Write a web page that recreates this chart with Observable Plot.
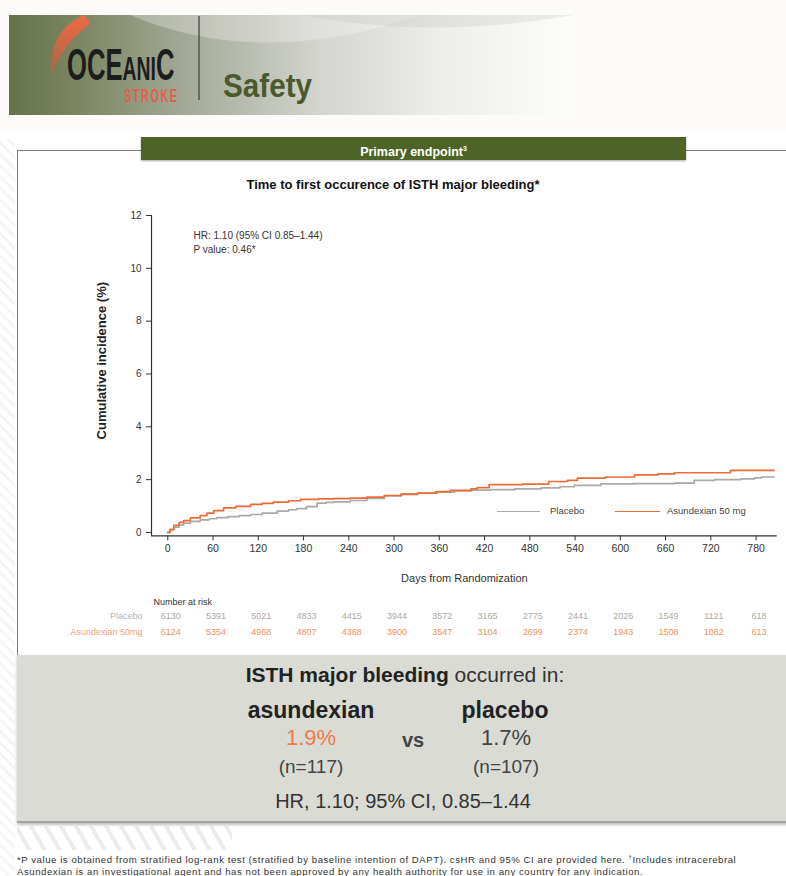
<!DOCTYPE html>
<html>
<head>
<meta charset="utf-8">
<script src="https://cdn.jsdelivr.net/npm/d3@7"></script>
<script src="https://cdn.jsdelivr.net/npm/@observablehq/plot@0.6"></script>
<style>
  html, body { margin: 0; padding: 0; }
  body { width: 786px; height: 876px; position: relative; overflow: hidden; background: #fff;
         font-family: "Liberation Sans", Arial, Helvetica, sans-serif; color: #333; }
  .abs { position: absolute; }
  .ctr { position: absolute; transform: translateX(-50%); white-space: nowrap; }
</style>
</head>
<body>
<script>
// ---------------- DATA ----------------
const xTicks = [0, 60, 120, 180, 240, 300, 360, 420, 480, 540, 600, 660, 720, 780];
const yTicks = [0, 2, 4, 6, 8, 10, 12];

const placeboDays = [0, 3, 8, 15, 21, 30, 43, 55, 65, 80, 95, 110, 125, 145, 160, 171, 184, 198, 210, 220,
  242, 264, 287, 309, 331, 358, 380, 402, 428, 460, 495, 520, 539, 574, 620, 672, 698, 725, 760, 778, 787, 804];
const placeboInc = [0, 0.1, 0.2, 0.28, 0.35, 0.42, 0.48, 0.52, 0.56, 0.6, 0.64, 0.68, 0.73, 0.81, 0.86, 0.9, 0.98, 1.11, 1.14, 1.16,
  1.21, 1.29, 1.38, 1.46, 1.49, 1.53, 1.57, 1.6, 1.62, 1.65, 1.69, 1.73, 1.78, 1.84, 1.85, 1.87, 1.97, 2.0, 2.03, 2.07, 2.1, 2.1];

const asunDays = [0, 3, 8, 15, 21, 30, 43, 52, 61, 74, 90, 110, 125, 140, 160, 176, 200, 220, 242, 264,
  287, 310, 331, 355, 375, 402, 410, 426, 470, 505, 530, 543, 580, 619, 650, 672, 746, 804];
const asunInc = [0, 0.12, 0.27, 0.38, 0.45, 0.55, 0.64, 0.73, 0.83, 0.93, 0.99, 1.06, 1.1, 1.15, 1.2, 1.25, 1.27, 1.28, 1.3, 1.34,
  1.4, 1.44, 1.49, 1.55, 1.59, 1.65, 1.7, 1.81, 1.83, 1.93, 1.97, 2.06, 2.1, 2.18, 2.22, 2.26, 2.35, 2.35];

const riskGroups = ["Placebo", "Asundexian 50mg"];
const riskPlacebo = [6130, 5391, 5021, 4833, 4415, 3944, 3572, 3165, 2775, 2441, 2026, 1549, 1121, 618];
const riskAsun = [6124, 5354, 4968, 4807, 4368, 3900, 3547, 3104, 2699, 2374, 1943, 1508, 1082, 613];

const seriesNames = ["Placebo", "Asundexian 50 mg"];
const seriesColors = ["#a9a9a9", "#ee6a37"];

const annotation = "HR: 1.10 (95% CI 0.85\u20131.44)\nP value: 0.46*";
const yLabel = "Cumulative incidence (%)";
const xLabel = "Days from Randomization";
</script>

<!-- header -->
<svg class="abs" style="left:0;top:0" width="786" height="132">
  <defs>
    <linearGradient id="hg" x1="0" x2="1" y1="0" y2="0">
      <stop offset="0" stop-color="#65724a"/>
      <stop offset="0.14" stop-color="#7f8966"/>
      <stop offset="0.34" stop-color="#a9ae9e"/>
      <stop offset="0.55" stop-color="#d3d5cf"/>
      <stop offset="0.76" stop-color="#ededeb"/>
      <stop offset="1" stop-color="#fdfdfc"/>
    </linearGradient>
    <linearGradient id="fl" x1="0" x2="0" y1="0" y2="1">
      <stop offset="0" stop-color="#ef6a45"/>
      <stop offset="1" stop-color="#d8553a" stop-opacity="0.55"/>
    </linearGradient>
  </defs>
  <rect x="0" y="0" width="786" height="132" fill="#fdfbfa"/>
  <rect x="9" y="15" width="565" height="100" fill="url(#hg)"/>
  <path d="M130,15 Q 260,70 420,15 Z" fill="#ffffff" opacity="0.28"/>
  <path d="M300,15 Q 430,40 574,15 Z" fill="#bdbdb8" opacity="0.25"/>
  <path d="M84,15 C62,24 48,46 52,74 C58,58 68,40 90,24 C88,20 86,17 84,15 Z" fill="url(#fl)"/>
  <g transform="translate(67,0) scale(0.57,1)">
    <text y="80" font-weight="bold" fill="#1d1d1d"><tspan x="0" font-size="45">OCE</tspan><tspan font-size="34">ANI</tspan><tspan font-size="45">C</tspan><tspan x="100" y="102" font-size="19" letter-spacing="2.8" fill="#e0604a">STROKE</tspan></text>
  </g>
  <line x1="199" x2="199" y1="16" y2="100" stroke="#555" stroke-width="1.5"/>
  <text x="223" y="97" textLength="89" lengthAdjust="spacingAndGlyphs" font-weight="bold" font-size="33" fill="#4a5a2c">Safety</text>
</svg>

<!-- left decorative stripes -->
<div class="abs" style="left:0;top:140px;width:15px;height:736px;opacity:0.18;background:repeating-linear-gradient(45deg,#fff 0 5px,#c8c8c8 5px 8px);"></div>

<!-- panel border -->
<div class="abs" style="left:17px;top:150px;width:800px;height:505px;border-top:1px solid #7d7d7d;border-left:1px solid #7d7d7d;background:#fff;"></div>

<!-- green banner -->
<div class="abs" style="left:141px;top:137px;width:545px;height:23px;background:#4e6426;color:#fff;font-weight:bold;font-size:12.5px;text-align:center;line-height:23px;box-shadow:0 1px 2px rgba(0,0,0,0.35);">Primary endpoint<sup style="font-size:7px;">3</sup></div>

<!-- chart title -->
<div class="ctr" style="left:393px;top:177px;font-weight:bold;font-size:13px;color:#111;">Time to first occurence of ISTH major bleeding*</div>

<div id="main" class="abs" style="left:0;top:190px;"></div>
<div id="legend" class="abs" style="left:0;top:504px;width:786px;height:16px;font-size:9.5px;color:#444;"></div>
<div id="risk" class="abs" style="left:0;top:590px;"></div>

<!-- summary box -->
<div class="abs" style="left:17px;top:655px;width:790px;height:166px;background:#d9dbd4;border-bottom:2px solid #a3a49f;box-shadow:0 2px 3px rgba(0,0,0,0.25);"></div>
<div class="ctr" style="left:405px;top:663px;font-size:21px;color:#333;"><b style="color:#222">ISTH major bleeding</b> occurred in:</div>
<div class="ctr" style="left:311px;top:697px;font-size:23px;font-weight:bold;color:#222;">asundexian</div>
<div class="ctr" style="left:505px;top:697px;font-size:23px;font-weight:bold;color:#222;">placebo</div>
<div class="ctr" style="left:311px;top:725px;font-size:22px;color:#f07a45;">1.9%</div>
<div class="ctr" style="left:413px;top:729px;font-size:20px;font-weight:bold;color:#444;">vs</div>
<div class="ctr" style="left:506px;top:725px;font-size:22px;color:#444;">1.7%</div>
<div class="ctr" style="left:311px;top:756px;font-size:19px;color:#444;">(n=117)</div>
<div class="ctr" style="left:506px;top:756px;font-size:19px;color:#444;">(n=107)</div>
<div class="ctr" style="left:403px;top:790px;font-size:20px;color:#333;">HR, 1.10; 95% CI, 0.85&#8211;1.44</div>

<!-- bottom stripes -->
<div class="abs" style="left:17px;top:826px;width:215px;height:24px;opacity:0.4;background:repeating-linear-gradient(60deg,#fff 0 9px,#cfcfcf 9px 13px);"></div>

<!-- footnotes -->
<div class="abs" style="left:17px;top:851px;font-size:9.6px;color:#333;white-space:nowrap;line-height:12px;letter-spacing:0.55px;">
*P value is obtained from stratified log-rank test (stratified by baseline intention of DAPT). csHR and 95% CI are provided here. <sup style="font-size:6px">†</sup>Includes intracerebral<br>
Asundexian is an investigational agent and has not been approved by any health authority for use in any country for any indication.
</div>

<script>
const xDomain = [-21.6, 808];
const yDomain = [-0.13, 12];
const placebo = placeboDays.map((d, i) => ({day: d, inc: placeboInc[i]}));
const asun = asunDays.map((d, i) => ({day: d, inc: asunInc[i]}));

const main = Plot.plot({
  width: 786, height: 410,
  marginLeft: 151, marginRight: 9.3, marginTop: 25, marginBottom: 64.6,
  style: {fontFamily: "'Liberation Sans', Arial, sans-serif", fontSize: "10px", color: "#333", background: "transparent", overflow: "visible"},
  x: {domain: xDomain},
  y: {domain: yDomain},
  marks: [
    Plot.ruleX([xDomain[0]], {stroke: "#333", strokeWidth: 1.2}),
    Plot.ruleY([yDomain[0]], {stroke: "#333", strokeWidth: 1.2}),
    Plot.axisY({ticks: yTicks, tickSize: 5, tickPadding: 5, label: null, stroke: "#333"}),
    Plot.axisX({ticks: xTicks, tickSize: 5, tickPadding: 4, label: null, fontSize: 10.5, stroke: "#333"}),
    Plot.text([xLabel], {frameAnchor: "bottom", dy: 46, fontSize: 11, fill: "#333"}),
    Plot.line(placebo, {x: "day", y: "inc", curve: "step-after", stroke: seriesColors[0], strokeWidth: 1.7}),
    Plot.line(asun, {x: "day", y: "inc", curve: "step-after", stroke: seriesColors[1], strokeWidth: 1.7}),
    Plot.text([yLabel], {frameAnchor: "left", textAnchor: "middle", rotate: -90, dx: -50, dy: -15, fontWeight: "bold", fontSize: 13, fill: "#222"}),
    Plot.text([annotation], {frameAnchor: "top-left", textAnchor: "start", lineAnchor: "top", dx: 42, dy: 14, lineHeight: 1.35, fontSize: 10, fill: "#333"})
  ]
});
document.getElementById("main").appendChild(main);

// legend
const legendPos = [{l: 497, w: 43, t: 550}, {l: 615, w: 45, t: 667}];
const lg = document.getElementById("legend");
seriesNames.forEach((name, i) => {
  const p = legendPos[i];
  const line = document.createElement("div");
  line.style.cssText = `position:absolute;left:${p.l}px;top:7px;width:${p.w}px;height:0;border-top:1.7px solid ${seriesColors[i]};`;
  const t = document.createElement("div");
  t.style.cssText = `position:absolute;left:${p.t}px;top:1px;white-space:nowrap;`;
  t.textContent = name;
  lg.appendChild(line); lg.appendChild(t);
});

// number at risk
const riskRows = [];
xTicks.forEach((d, i) => {
  riskRows.push({day: d, group: riskGroups[0], n: riskPlacebo[i]});
  riskRows.push({day: d, group: riskGroups[1], n: riskAsun[i]});
});
const risk = Plot.plot({
  width: 786, height: 50,
  marginLeft: 151, marginRight: 9.3, marginTop: 0, marginBottom: 0,
  style: {fontFamily: "'Liberation Sans', Arial, sans-serif", fontSize: "9px", background: "transparent", overflow: "visible"},
  x: {domain: xDomain, axis: null},
  y: {type: "point", domain: riskGroups, range: [26, 42], padding: 0, axis: null},
  color: {domain: riskGroups, range: ["#a9a9a9", "#f0905f"]},
  marks: [
    Plot.text(["Number at risk"], {frameAnchor: "top-left", textAnchor: "start", dx: 2, dy: 8, fontSize: 9, fill: "#333"}),
    Plot.text(riskRows, {x: "day", y: "group", text: d => String(d.n), fill: "group", dx: 3}),
    Plot.text(riskGroups, {y: d => d, text: d => d, frameAnchor: "left", textAnchor: "end", dx: -9, fill: d => d === riskGroups[0] ? "#b5b5b5" : "#f3a07c"})
  ]
});
document.getElementById("risk").appendChild(risk);
</script>
</body>
</html>
